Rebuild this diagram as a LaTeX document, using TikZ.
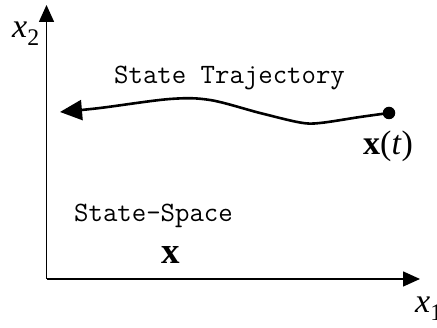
\documentclass[tikz,border=0pt]{standalone}
\usepackage{amsmath}
\usepackage{fontspec}
\setmainfont{Liberation Serif}
\usetikzlibrary{arrows.meta}

\begin{document}
\begin{tikzpicture}[x=1pt,y=1pt,
  axis/.style={line width=1.5pt,-{Triangle[length=17pt,width=15pt]}},
  traj/.style={line width=2.6pt,-{Triangle[length=22pt,width=20pt]}},
  mono/.style={font=\ttfamily\fontsize{28}{32}\selectfont,inner sep=0pt,anchor=base west},
  lbl/.style={font=\fontsize{34}{38}\selectfont,inner sep=0pt,anchor=base west}]
\useasboundingbox (0,0) rectangle (437,328);
\coordinate (o) at (46.5,49);
\coordinate (ytip) at (46.5,323);
\coordinate (xtip) at (420,49);
\draw[axis] (o)--(ytip);
\draw[axis] (o)--(xtip);
\node[lbl] (xtwo) at (12,290) {\textit{x}$_{\text{2}}$};
\node[lbl] (xone) at (415,15) {\textit{x}$_{\text{1}}$};
% trajectory
\node[circle,fill,inner sep=0pt,minimum size=12.5pt] (dot) at (389,215) {};
\coordinate (tip) at (60,216);
\draw[traj] plot[smooth,tension=0.55] coordinates {(dot.center) (360,211) (320,205) (300,205.5) (260,215) (210,228) (170,229) (100,220) (tip)};
\node[mono] (trajtxt) at (114,244) {State Trajectory};
\node[lbl] (xt) at (363,173) {\textbf{x}(\textit{t})};
% state space
\node[mono] (sstxt) at (74,106) {State-Space};
\node[font=\fontsize{37}{40}\selectfont\bfseries,inner sep=0pt] (xset) at (171,73) {x};
\end{tikzpicture}
\end{document}
